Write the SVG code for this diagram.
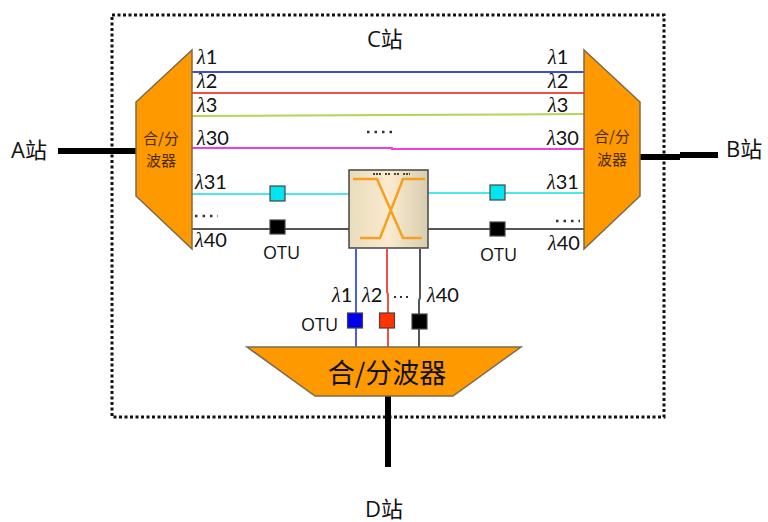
<svg xmlns="http://www.w3.org/2000/svg" width="768" height="522" viewBox="0 0 768 522">
<defs>
<style>
text{font-family:"Liberation Sans","Noto Sans CJK SC",sans-serif;fill:#111}
.lab{font-size:18px}
.la{font-size:20px;font-family:"Liberation Serif","Noto Sans CJK SC",serif}
.num{font-family:"Lato","Liberation Sans",sans-serif;font-size:20px}
.st{font-size:22px;font-family:"Open Sans","Noto Sans CJK SC",sans-serif}
.mux{fill:#ff9900;stroke:#7a6a50;stroke-width:1.5}
.mt{font-size:15px;fill:#4a2c00;font-family:"Noto Sans CJK SC",sans-serif}
.ln{fill:none;stroke-width:2}
.trunk{fill:none;stroke:#000;stroke-width:6}
.otu{stroke:#444;stroke-width:1.2}
.dots{fill:none;stroke:#333;stroke-width:2.500;stroke-dasharray:2.500 5}
</style>
<linearGradient id="sw" x1="0" y1="0" x2="1" y2="0">
<stop offset="0" stop-color="#e8dcbc"/><stop offset="0.5" stop-color="#fbeace"/><stop offset="1" stop-color="#d8cdb0"/>
</linearGradient>
</defs>
<rect x="0" y="0" width="768" height="522" fill="#fff"/>
<rect id="station-c" x="112" y="15" width="552" height="402" fill="none" stroke="#111" stroke-width="3" stroke-dasharray="3 2.5"/>
<g id="connectors">
<path class="trunk" d="M58 151H138"/>
<path class="trunk" d="M640 157H680M680 155H718"/>
<path class="trunk" d="M388 396V467"/>
<path class="ln" stroke="#3c4fd8" d="M192 72H584"/>
<path class="ln" stroke="#f0504a" d="M192 93H584"/>
<path class="ln" stroke="#b5d655" d="M192 116L390 115L584 114"/>
<path class="ln" stroke="#ee3fd8" d="M192 148H392V149H584"/>
<path class="ln" stroke="#4fe6ea" d="M192 194H349M428 193H584"/>
<path class="ln" stroke="#555" d="M192 229H349M428 229H584"/>
<path class="ln" stroke="#4a5ee8" d="M356 249V347"/>
<path class="ln" stroke="#f0504a" d="M387 249V292L388 294V347"/>
<path class="ln" stroke="#555" d="M420 249V298L419 300V347"/>
</g>
<g id="mux-left">
<path class="mux" d="M192 50V249L136 196V102Z"/>
<text class="mt" x="161" y="144" text-anchor="middle">合/分</text>
<text class="mt" x="161" y="166" text-anchor="middle">波器</text>
</g>
<g id="mux-right">
<path class="mux" d="M584 50V249L640 196V102Z"/>
<text class="mt" x="612" y="142" text-anchor="middle">合/分</text>
<text class="mt" x="612" y="165" text-anchor="middle">波器</text>
</g>
<g id="mux-bottom">
<path class="mux" d="M247 347H521L453 396H315Z"/>
<text x="387" y="383" text-anchor="middle" font-size="27" style="font-family:'Noto Sans CJK SC',sans-serif">合/分波器</text>
</g>
<g id="oxc">
<rect x="349" y="170" width="79" height="78" fill="url(#sw)" stroke="#444" stroke-width="1.500"/>
<path d="M353 179H377L403 238H422M425 179H403L380 238H360" fill="none" stroke="#f5a020" stroke-width="2.500"/>
<path d="M373 174H382M385 174H391M394 174H399M403 174H410" stroke="#444" stroke-width="2" stroke-dasharray="2 1"/>
</g>
<g id="otu-l1"><rect class="otu" x="270" y="186" width="15" height="15" fill="#00e5ee"/></g>
<g id="otu-l2"><rect class="otu" x="270" y="220" width="15" height="14" fill="#000"/></g>
<g id="otu-r1"><rect class="otu" x="490" y="185" width="15" height="15" fill="#00e5ee"/></g>
<g id="otu-r2"><rect class="otu" x="490" y="222" width="15" height="14" fill="#000"/></g>
<g id="otu-b1"><rect class="otu" x="347.500" y="313" width="15" height="15" fill="#0000ee"/></g>
<g id="otu-b2"><rect class="otu" x="379.500" y="313" width="15" height="15" fill="#ff3300"/></g>
<g id="otu-b3"><rect class="otu" x="412" y="314" width="15" height="15" fill="#000"/></g>
<g id="labels">
<text class="st" x="11" y="158">A站</text>
<text class="st" x="726" y="157">B站</text>
<text class="st" x="367" y="47">C站</text>
<text class="st" x="365" y="517">D站</text>
<text class="la" x="197" y="64"><tspan font-style="italic">λ</tspan><tspan class="num">1</tspan></text>
<text class="la" x="197" y="88"><tspan font-style="italic">λ</tspan><tspan class="num">2</tspan></text>
<text class="la" x="197" y="112"><tspan font-style="italic">λ</tspan><tspan class="num">3</tspan></text>
<text class="la" x="197" y="145"><tspan font-style="italic">λ</tspan><tspan class="num">30</tspan></text>
<text class="la" x="195" y="189"><tspan font-style="italic">λ</tspan><tspan class="num">31</tspan></text>
<text class="la" x="195" y="247"><tspan font-style="italic">λ</tspan><tspan class="num">40</tspan></text>
<text class="la" x="548" y="64"><tspan font-style="italic">λ</tspan><tspan class="num">1</tspan></text>
<text class="la" x="548" y="88"><tspan font-style="italic">λ</tspan><tspan class="num">2</tspan></text>
<text class="la" x="548" y="112"><tspan font-style="italic">λ</tspan><tspan class="num">3</tspan></text>
<text class="la" x="547" y="145"><tspan font-style="italic">λ</tspan><tspan class="num">30</tspan></text>
<text class="la" x="547" y="189"><tspan font-style="italic">λ</tspan><tspan class="num">31</tspan></text>
<text class="la" x="548" y="250"><tspan font-style="italic">λ</tspan><tspan class="num">40</tspan></text>
<text class="la" x="332" y="302"><tspan font-style="italic">λ</tspan><tspan class="num">1</tspan></text>
<text class="la" x="362" y="302"><tspan font-style="italic">λ</tspan><tspan class="num">2</tspan></text>
<text class="la" x="427" y="302"><tspan font-style="italic">λ</tspan><tspan class="num">40</tspan></text>
<text class="lab" x="263" y="259" style="font-family:'Open Sans',sans-serif">OTU</text>
<text class="lab" x="480" y="261" style="font-family:'Open Sans',sans-serif">OTU</text>
<text class="lab" x="301" y="331" style="font-family:'Open Sans',sans-serif">OTU</text>
<path class="dots" d="M367 132H392"/>
<path class="dots" d="M195 216H218"/>
<path class="dots" d="M556 221H580"/>
<path d="M394 297H410" fill="none" stroke="#333" stroke-width="2" stroke-dasharray="2 4"/>
</g>
</svg>
